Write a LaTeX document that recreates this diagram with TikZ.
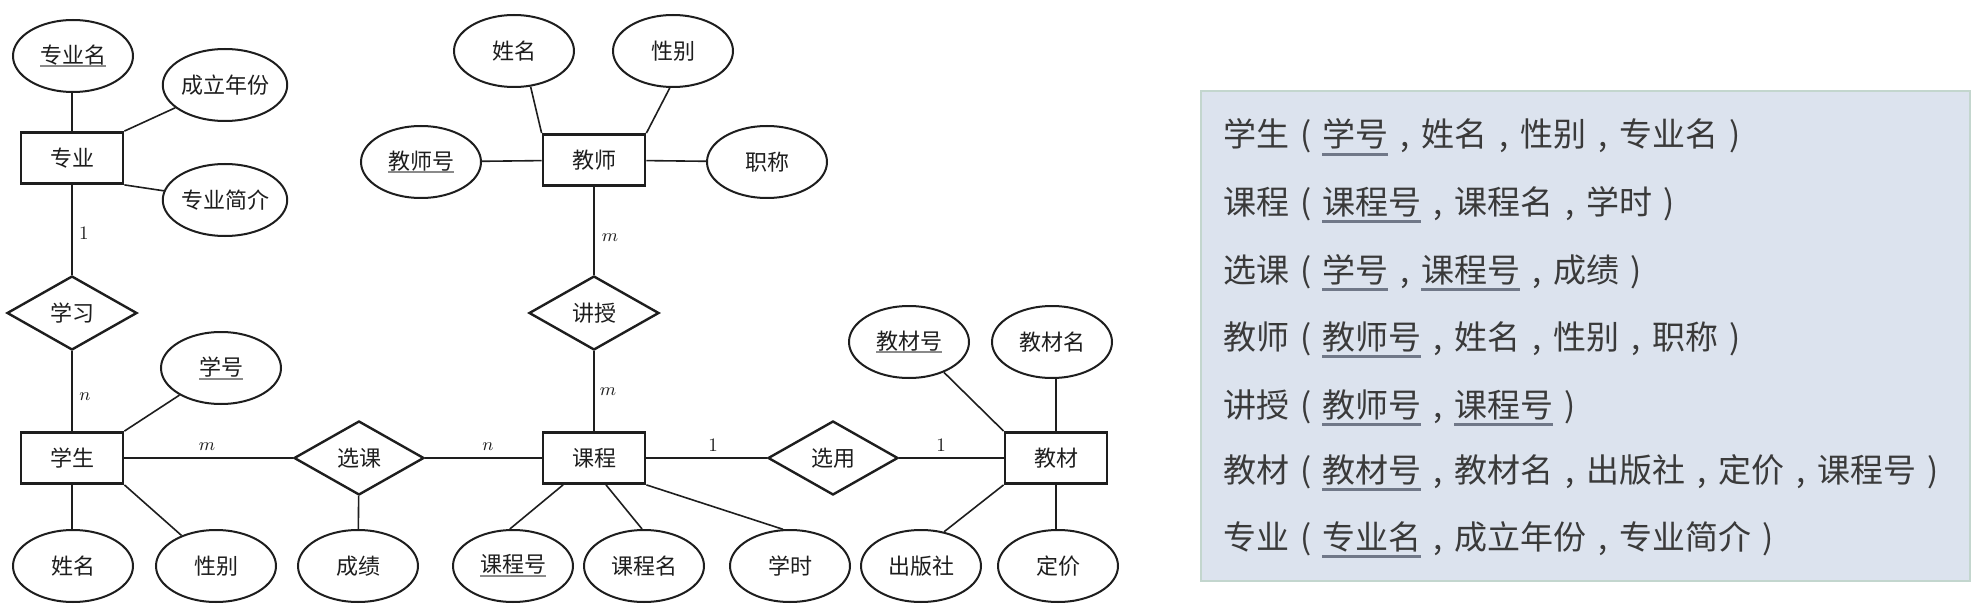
\documentclass[tikz,border=0pt]{standalone}
\usepackage{fontspec}
\newfontfamily\cjk{Noto Sans CJK SC}
\usetikzlibrary{shapes.geometric}
\definecolor{boxfill}{HTML}{DCE3EE}
\definecolor{boxline}{HTML}{C3D6CE}
\definecolor{boxtext}{HTML}{3A3A3A}
\definecolor{ulgray}{HTML}{707888}
\definecolor{dulgray}{HTML}{8A8A8A}
\definecolor{ink}{HTML}{1E1E1E}
\newcommand{\dul}[1]{\setbox0\hbox{#1}\rlap{\textcolor{dulgray}{\rule[-0.2em]{\wd0}{0.09em}}}\box0}
\newcommand{\kul}[1]{\setbox0\hbox{#1}\rlap{\textcolor{ulgray}{\rule[-0.26em]{\wd0}{0.085em}}}\box0}
\newcommand{\plp}{\makebox[1em]{(}}
\newcommand{\pcm}{\makebox[1em]{,}}
\newcommand{\prp}{\makebox[1em]{)}}
\tikzset{
  lbl/.style={font=\cjk\fontsize{11pt}{13pt}\selectfont, text=ink},
  ent/.style={lbl, draw=ink, line width=1.4pt, rectangle, minimum width=51pt, minimum height=25.5pt, inner sep=0pt},
  rel/.style={lbl, draw=ink, line width=1.2pt, diamond, minimum width=65pt, minimum height=37pt, inner sep=0pt},
  attr/.style={lbl, draw=ink, line width=1pt, ellipse, minimum width=60pt, minimum height=36pt, inner sep=0pt},
  conn/.style={draw=ink, line width=0.8pt},
  card/.style={font=\fontsize{9.5pt}{11pt}\selectfont, text=ink, inner sep=0pt},
  schema/.style={anchor=base west, inner sep=0pt, font=\cjk\fontsize{16.5pt}{20pt}\selectfont, text=boxtext}
}
\begin{document}
\begin{tikzpicture}[x=0.5pt,y=-0.5pt]
\path[use as bounding box, fill=white] (0,0) rectangle (1983,615);

% entities
\node[ent] (zy) at (72,158) {专业};
\node[ent] (xs) at (72,458) {学生};
\node[ent] (js) at (594,160) {教师};
\node[ent] (kc) at (594,458) {课程};
\node[ent] (jc) at (1056,458) {教材};

% relationships
\node[rel] (xx) at (72,313) {学习};
\node[rel] (xk) at (359,458) {选课};
\node[rel] (jsh) at (594,313) {讲授};
\node[rel] (xy) at (833,458) {选用};

% attributes
\node[attr] (zym) at (73,56) {\dul{专业名}};
\node[attr] (clnf) at (225,85) {成立年份};
\node[attr] (zyjj) at (225,200) {专业简介};
\node[attr] (jsxm) at (514,51) {姓名};
\node[attr] (jsxb) at (673,51) {性别};
\node[attr] (jsbh) at (421,162) {\dul{教师号}};
\node[attr] (zc) at (767,162) {职称};
\node[attr] (xh) at (221,368) {\dul{学号}};
\node[attr] (xsxm) at (73,566) {姓名};
\node[attr] (xsxb) at (216,566) {性别};
\node[attr] (cj) at (358,566) {成绩};
\node[attr] (kch) at (513,566) {\dul{课程号}};
\node[attr] (kcm) at (644,566) {课程名};
\node[attr] (xsh) at (790,566) {学时};
\node[attr] (cbs) at (921,566) {出版社};
\node[attr] (dj) at (1058,566) {定价};
\node[attr] (jcbh) at (909,342) {\dul{教材号}};
\node[attr] (jcmc) at (1052,342) {教材名};

% connectors
\draw[conn] (zy.north) -- (zy.north |- zym.south);
\draw[conn] (zy.north east) -- (clnf);
\draw[conn] (zy.south east) -- (zyjj);
\draw[conn] (zy) -- (xx);
\draw[conn] (xx) -- (xs);
\draw[conn] (xs.north east) -- (xh);
\draw[conn] (xs.south) -- (xs.south |- xsxm.north);
\draw[conn] (xs.south east) -- (xsxb);
\draw[conn] (xs) -- (xk);
\draw[conn] (xk) -- (kc);
\draw[conn] (xk) -- (cj);
\draw[conn] (js.north west) -- (jsxm.295);
\draw[conn] (js.north east) -- (jsxb.265);
\draw[conn] (js) -- (jsbh);
\draw[conn] (js) -- (zc);
\draw[conn] (js) -- (jsh);
\draw[conn] (jsh) -- (kc);
\draw[conn] (kc.221) -- (kch.95);
\draw[conn] (kc.294) -- (kcm.93);
\draw[conn] (kc.south east) -- (xsh.101);
\draw[conn] (kc) -- (xy);
\draw[conn] (xy) -- (jc);
\draw[conn] (jc.north west) -- (jcbh.319);
\draw[conn] (jc.north) -- (jc.north |- jcmc.south);
\draw[conn] (jc.south west) -- (cbs.56);
\draw[conn] (jc.south) -- (jc.south |- dj.north);

% cardinalities
\node[card] (c1) at (84,233) {1};
\node[card] (c2) at (85,397) {$n$};
\node[card] (c3) at (207,447) {$m$};
\node[card] (c4) at (488,447) {$n$};
\node[card] (c5) at (610,238) {$m$};
\node[card] (c6) at (608,392) {$m$};
\node[card] (c7) at (713,445) {1};
\node[card] (c8) at (941,445) {1};

% schema box
\node[draw=boxline, fill=boxfill, line width=1pt, minimum width=384.5pt, minimum height=245pt, inner sep=0pt, anchor=north west] (box) at (1200,90) {};
\node[schema] (s1) at (1223,147) {学生\plp\kul{学号}\pcm 姓名\pcm 性别\pcm 专业名\prp};
\node[schema] (s2) at (1223,214) {课程\plp\kul{课程号}\pcm 课程名\pcm 学时\prp};
\node[schema] (s3) at (1223,282) {选课\plp\kul{学号}\pcm\kul{课程号}\pcm 成绩\prp};
\node[schema] (s4) at (1223,349) {教师\plp\kul{教师号}\pcm 姓名\pcm 性别\pcm 职称\prp};
\node[schema] (s5) at (1223,417) {讲授\plp\kul{教师号}\pcm\kul{课程号}\prp};
\node[schema] (s6) at (1223,482) {教材\plp\kul{教材号}\pcm 教材名\pcm 出版社\pcm 定价\pcm 课程号\prp};
\node[schema] (s7) at (1223,549) {专业\plp\kul{专业名}\pcm 成立年份\pcm 专业简介\prp};
\end{tikzpicture}
\end{document}
